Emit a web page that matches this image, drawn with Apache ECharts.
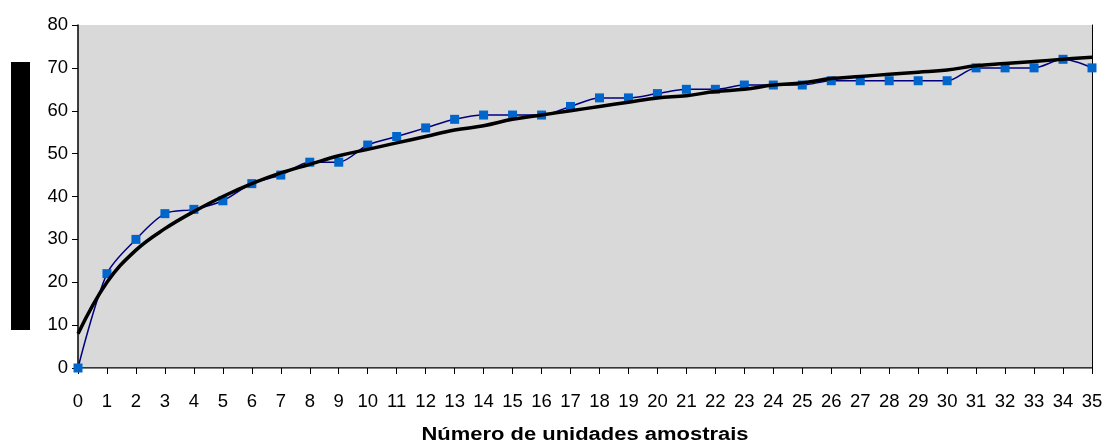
<!DOCTYPE html>
<html>
<head>
<meta charset="utf-8">
<script src="https://cdn.jsdelivr.net/npm/echarts@6/dist/echarts.min.js"></script>
<style>
html,body{margin:0;padding:0;background:#ffffff;}
#chart{width:1106px;height:446px;}
</style>
</head>
<body>
<div id="chart"></div>
<script>
var categories = ['0','1','2','3','4','5','6','7','8','9','10','11','12','13','14','15','16','17','18','19','20','21','22','23','24','25','26','27','28','29','30','31','32','33','34','35'];
var observed = [0,22,30,36,37,39,43,45,48,48,52,54,56,58,59,59,59,61,63,63,64,65,65,66,66,66,67,67,67,67,67,70,70,70,72,70];
var trend = [8,20,27.5,32.5,36.5,40,43,45.5,47.5,49.5,51,52.5,54,55.5,56.5,58,59,60,61,62,63,63.5,64.5,65,66,66.5,67.5,68,68.5,69,69.5,70.5,71,71.5,72,72.5];
var yTicks = [0,10,20,30,40,50,60,70,80];
var xTitle = 'Número de unidades amostrais';

var FONT = 'Liberation Sans, Arial, sans-serif';
var chart = echarts.init(document.getElementById('chart'), null, {renderer:'canvas'});
chart.setOption({
  animation:false,
  backgroundColor:'#ffffff',
  grid:{left:78,right:14,top:25,bottom:78,show:true,backgroundColor:'#d9d9d9',borderWidth:0},
  graphic:[
    {type:'rect',left:11,top:62,shape:{width:19,height:268},style:{fill:'#000000'}},
    {type:'text',x:585,y:435,scaleX:1.22,scaleY:1,
     style:{text:xTitle,fontFamily:FONT,fontSize:18,fontWeight:'bold',fill:'#000',align:'center',verticalAlign:'middle'}}
  ],
  xAxis:[{
    type:'category',data:categories,boundaryGap:false,
    axisLine:{lineStyle:{color:'#000',width:1.5}},
    axisTick:{show:true,length:6,inside:false,interval:0,alignWithLabel:true,lineStyle:{color:'#000'}},
    axisLabel:{interval:0,margin:24,fontFamily:FONT,fontSize:18.5,color:'#000'},
    splitLine:{show:false}
  },{
    type:'category',data:categories,boundaryGap:false,position:'top',
    axisLine:{lineStyle:{color:'#808080',width:1}},axisTick:{show:false},axisLabel:{show:false}
  }],
  yAxis:[{
    type:'value',min:0,max:80,interval:10,
    axisLine:{show:true,lineStyle:{color:'#000',width:1.5}},
    axisTick:{show:true,length:6,lineStyle:{color:'#000'}},
    axisLabel:{margin:10,fontFamily:FONT,fontSize:18.5,color:'#000',
      formatter:function(v){return yTicks.indexOf(v)>=0?String(v):'';}},
    splitLine:{show:false}
  },{
    type:'value',min:0,max:80,interval:10,position:'right',
    axisLine:{show:true,lineStyle:{color:'#000',width:1}},axisTick:{show:false},axisLabel:{show:false},splitLine:{show:false}
  }],
  series:[{
    type:'line',data:observed,smooth:0.3,
    symbol:'rect',symbolSize:9,
    lineStyle:{color:'#000080',width:1.5},
    itemStyle:{color:'#0066cc'},z:3
  },{
    type:'line',data:trend,smooth:0.4,symbol:'none',
    lineStyle:{color:'#000000',width:3.5},z:4
  }]
});
</script>
</body>
</html>
